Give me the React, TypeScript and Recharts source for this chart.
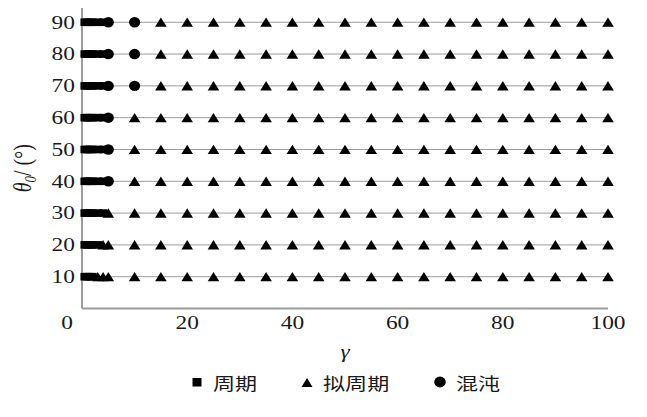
import React from 'react';
import { ScatterChart, Scatter, XAxis, YAxis, CartesianGrid, Legend } from 'recharts';

// Tested excitation ratios γ (dense near zero, then every 5)
const gammaValues = [0.5, 1, 1.5, 2, 3, 4, 5, 10, 15, 20, 25, 30, 35, 40, 45, 50, 55, 60, 65, 70, 75, 80, 85, 90, 95, 100];
// Initial angles θ0 (°)
const thetaValues = [10, 20, 30, 40, 50, 60, 70, 80, 90];
// Response regime per θ0 row, one code per γ: P = 周期, Q = 拟周期, C = 混沌
const regimeRows = [
  'PPPPQQQQQQQQQQQQQQQQQQQQQQ',
  'PPPPPQQQQQQQQQQQQQQQQQQQQQ',
  'PPPPPPQQQQQQQQQQQQQQQQQQQQ',
  'PPPPPPCQQQQQQQQQQQQQQQQQQQ',
  'PPPPPPCQQQQQQQQQQQQQQQQQQQ',
  'PPPPPPCQQQQQQQQQQQQQQQQQQQ',
  'PPPPPPCCQQQQQQQQQQQQQQQQQQ',
  'PPPPPPCCQQQQQQQQQQQQQQQQQQ',
  'PPPPPPCCQQQQQQQQQQQQQQQQQQ',
];
const xTicks = [0, 20, 40, 60, 80, 100];
const yTicks = [0, 10, 20, 30, 40, 50, 60, 70, 80, 90];

const seriesNames = { P: '周期', Q: '拟周期', C: '混沌' };

type Pt = { gamma: number; theta: number };
const byRegime: Record<string, Pt[]> = { P: [], Q: [], C: [] };
regimeRows.forEach((row, i) => {
  row.split('').forEach((code, j) => {
    byRegime[code].push({ gamma: gammaValues[j], theta: thetaValues[i] });
  });
});

const SERIF = '"Liberation Serif", "Times New Roman", serif';
const CJK = '"Noto Sans CJK SC", sans-serif';
const SX = 1.3;
const INK = '#1a1a1a';
const GRID = '#9c9c9c';

const SquareMark = (p: any) => (
  <rect x={p.cx - 4.2} y={p.cy - 3.8} width={8.4} height={7.6} fill="#000" />
);
const TriangleMark = (p: any) => (
  <polygon
    points={`${p.cx - 5.8},${p.cy + 4.6} ${p.cx + 5.8},${p.cy + 4.6} ${p.cx},${p.cy - 4.8}`}
    fill="#000"
  />
);
const CircleMark = (p: any) => <ellipse cx={p.cx} cy={p.cy} rx={5.6} ry={5.2} fill="#000" />;

const XTick = (p: any) => {
  const v = p.payload.value;
  const dx = v === 0 ? -15 : 0;
  return (
    <text
      transform={`translate(${p.x + dx},${p.y}) scale(${SX},1)`}
      textAnchor="middle"
      dy="0.71em"
      fontSize={18}
      fontFamily={SERIF}
      fill={INK}
    >
      {v}
    </text>
  );
};

const YTick = (p: any) => {
  const v = p.payload.value;
  if (v === 0) return null;
  return (
    <text
      transform={`translate(${p.x},${p.y}) scale(${SX},1)`}
      textAnchor="end"
      dy="0.35em"
      fontSize={18}
      fontFamily={SERIF}
      fill={INK}
    >
      {v}
    </text>
  );
};

const XTitle = (p: any) => {
  const vb = p.viewBox;
  const cx = vb.x + vb.width / 2;
  return (
    <text
      transform={`translate(${cx},${vb.y + 49}) scale(${SX},1)`}
      textAnchor="middle"
      fontSize={18}
      fontStyle="italic"
      fontFamily={SERIF}
      fill={INK}
    >
      γ
    </text>
  );
};

const YTitle = (p: any) => {
  const vb = p.viewBox;
  const cy = vb.y + vb.height / 2 + 14;
  return (
    <text
      transform={`translate(22,${cy}) rotate(-90) scale(1,${SX})`}
      textAnchor="middle"
      dy="0.35em"
      fontSize={20}
      fontFamily={SERIF}
      fill={INK}
    >
      <tspan fontStyle="italic">θ</tspan>
      <tspan fontStyle="italic" fontSize={13} dy={4}>0</tspan>
      <tspan dy={-4}>/ (°)</tspan>
    </text>
  );
};

const LegendBox = () => {
  const item = (left: number, glyph: React.ReactNode, label: string) => (
    <div style={{ position: 'absolute', left, top: 0, display: 'flex', alignItems: 'center', height: 22 }}>
      <svg width={14} height={14} style={{ marginRight: 9 }}>{glyph}</svg>
      <span
        style={{
          fontFamily: CJK,
          fontSize: 17,
          color: INK,
          display: 'inline-block',
          transform: `scaleX(${SX})`,
          transformOrigin: 'left center',
          whiteSpace: 'nowrap',
        }}
      >
        {label}
      </span>
    </div>
  );
  return (
    <div style={{ position: 'relative', width: 647, height: 22 }}>
      {item(190, <rect x={2.5} y={3} width={9} height={8.5} fill="#000" />, seriesNames.P)}
      {item(300, <polygon points="1.5,12 12.5,12 7,3" fill="#000" />, seriesNames.Q)}
      {item(433, <ellipse cx={7} cy={7} rx={5.8} ry={5.4} fill="#000" />, seriesNames.C)}
    </div>
  );
};

export default function App() {
  return (
    <div style={{ margin: '-8px 0 0 -8px', width: 647, height: 417, background: '#fff' }}>
      <ScatterChart width={647} height={417} margin={{ top: 0, right: 39, bottom: 78.5, left: 0 }}>
        <CartesianGrid horizontal vertical={false} stroke={GRID} strokeWidth={1} />
        <XAxis
          type="number"
          dataKey="gamma"
          domain={[0, 100]}
          ticks={xTicks}
          height={30}
          tickSize={0}
          tickMargin={8}
          tickLine={false}
          axisLine={{ stroke: GRID, strokeWidth: 2 }}
          tick={<XTick />}
          label={{ content: <XTitle /> } as any}
        />
        <YAxis
          type="number"
          dataKey="theta"
          domain={[0, 97]}
          ticks={yTicks}
          allowDataOverflow
          width={82}
          tickSize={0}
          tickMargin={7}
          tickLine={false}
          axisLine={{ stroke: GRID, strokeWidth: 2 }}
          tick={<YTick />}
          label={{ content: <YTitle /> } as any}
        />
        <Legend
          layout="horizontal"
          verticalAlign="middle"
          align="center"
          wrapperStyle={{ top: 371, left: 0, width: 647 }}
          content={() => <LegendBox />}
        />
        <Scatter name={seriesNames.P} data={byRegime.P} shape={<SquareMark />} isAnimationActive={false} />
        <Scatter name={seriesNames.Q} data={byRegime.Q} shape={<TriangleMark />} isAnimationActive={false} />
        <Scatter name={seriesNames.C} data={byRegime.C} shape={<CircleMark />} isAnimationActive={false} />
      </ScatterChart>
    </div>
  );
}
